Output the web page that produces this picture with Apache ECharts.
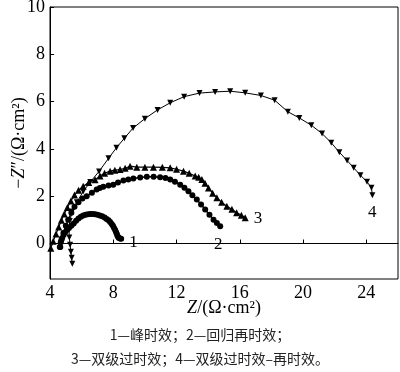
<!DOCTYPE html>
<html>
<head>
<meta charset="utf-8">
<script src="https://cdn.jsdelivr.net/npm/echarts@6/dist/echarts.min.js"></script>
<style>html,body{margin:0;padding:0;background:#fff}#c{width:400px;height:372px}</style>
</head>
<body>
<div id="c"></div>
<script>
// Curve labels
const curveNames = ['1', '2', '3', '4'];
// Tick labels
const xTicks = [4, 8, 12, 16, 20, 24];
const yTicks = [0, 2, 4, 6, 8, 10];
// Caption
const captionLines = ['1—峰时效；2—回归再时效；', '3—双级过时效；4—双级过时效–再时效。'];

// Series 1: peak aging (filled circles, dense)
const curve1 = [
  [4.62,-0.15],[4.68,0.05],[4.76,0.22],[4.86,0.36],[4.96,0.48],[5.08,0.58],[5.2,0.66],[5.35,0.75],
  [5.5,0.85],[5.65,0.96],[5.8,1.06],[5.95,1.13],[6.1,1.19],[6.25,1.22],[6.4,1.24],[6.55,1.25],
  [6.7,1.25],[6.85,1.24],[7.0,1.22],[7.15,1.19],[7.3,1.15],[7.45,1.1],[7.58,1.04],[7.7,0.98],
  [7.8,0.91],[7.9,0.83],[7.98,0.75],[8.05,0.66],[8.12,0.57],[8.18,0.48],[8.23,0.39],[8.28,0.31],
  [8.34,0.24],[8.42,0.21],[8.5,0.2]
];
// Series 2: retrogression and re-aging (filled circles)
const curve2 = [
  [4.65,-0.15],[4.72,0.15],[4.85,0.45],[5.0,0.75],[5.15,1.0],[5.35,1.3],[5.55,1.55],[5.8,1.75],
  [6.05,1.9],[6.32,2.0],[6.65,2.15],[6.95,2.28],[7.15,2.35],[7.37,2.4],[7.7,2.45],[8.0,2.49],
  [8.3,2.58],[8.64,2.66],[8.95,2.71],[9.27,2.75],[9.7,2.79],[10.12,2.82],[10.55,2.82],[10.96,2.8],
  [11.3,2.77],[11.6,2.71],[11.9,2.61],[12.23,2.49],[12.5,2.36],[12.75,2.21],[13.0,2.04],[13.28,1.86],
  [13.55,1.65],[13.81,1.44],[14.08,1.22],[14.34,1.01],[14.55,0.87],[14.76,0.73]
];
// Series 3: two-step over-aging (up triangles)
const curve3 = [
  [4.05,-0.2],[4.2,0.1],[4.38,0.4],[4.55,0.7],[4.72,0.98],[4.9,1.25],[5.1,1.52],[5.32,1.8],
  [5.55,2.05],[5.8,2.25],[6.1,2.42],[6.45,2.58],[6.85,2.7],[7.16,2.85],[7.45,2.97],[7.8,3.06],
  [8.1,3.1],[8.43,3.13],[8.75,3.18],[9.06,3.27],[9.49,3.23],[10.0,3.23],[10.54,3.23],[11.1,3.22],
  [11.6,3.2],[12.0,3.14],[12.44,3.06],[12.8,2.97],[13.18,2.85],[13.4,2.8],[13.6,2.71],[13.8,2.55],
  [14.02,2.35],[14.28,2.13],[14.55,1.93],[14.85,1.75],[15.18,1.58],[15.5,1.45],[15.8,1.3],[16.1,1.2],
  [16.34,1.09]
];
// Series 4: two-step over-aging + re-aging (down triangles)
const curve4 = [
  [5.41,-0.86],[5.37,-0.6],[5.32,-0.35],[5.27,-0.05],[5.22,0.25],[5.2,0.6],[5.25,0.95],[5.4,1.35],
  [5.7,1.75],[6.1,2.2],[6.55,2.6],[7.1,3.05],[7.7,3.6],[8.2,4.05],[8.7,4.45],[9.25,4.88],
  [10.0,5.28],[10.8,5.65],[11.6,5.95],[12.48,6.21],[13.45,6.36],[14.44,6.41],[15.39,6.44],[16.34,6.37],
  [17.33,6.26],[18.2,6.06],[19.04,5.57],[19.76,5.31],[20.52,5.0],[21.2,4.65],[21.78,4.26],[22.29,3.86],
  [22.78,3.51],[23.2,3.2],[23.62,2.89],[24.04,2.61],[24.32,2.36],[24.38,2.04]
];

const serif = '"Liberation Serif","DejaVu Serif",serif';
function withEndLabel(arr, name, pos, offset) {
  return arr.map((p, i) => i === arr.length - 1
    ? { value: p, label: { show: true, formatter: name, position: pos, offset: offset,
        color: '#000', fontFamily: serif, fontSize: 17 } }
    : { value: p });
}

const chart = echarts.init(document.getElementById('c'));
chart.setOption({
  animation: false,
  backgroundColor: '#fff',
  grid: { left: 50, right: 2, top: 7, bottom: 93, show: true, borderColor: '#000', borderWidth: 1,
          containLabel: false, outerBoundsMode: 'none' },
  xAxis: {
    type: 'value', min: 4, max: 26,
    name: '{i|Z}{n|/(Ω·cm²)}', nameLocation: 'middle', nameGap: 20, nameMoveOverlap: false,
    nameTextStyle: { rich: { i: { fontFamily: serif, fontSize: 18, fontStyle: 'italic', color: '#000' },
                             n: { fontFamily: serif, fontSize: 18, color: '#000' } } },
    axisLine: { lineStyle: { color: '#000', width: 1 } },
    axisTick: { inside: true, length: 4, lineStyle: { color: '#000' }, customValues: xTicks },
    axisLabel: { customValues: xTicks, color: '#000', fontFamily: serif, fontSize: 18, margin: 5 },
    splitLine: { show: false }
  },
  yAxis: {
    type: 'value', min: -1.5, max: 10,
    name: '{n|−}{i|Z}{n|″/(Ω·cm²)}', nameLocation: 'middle', nameGap: 22, nameRotate: 90, nameMoveOverlap: false,
    nameTextStyle: { rich: { i: { fontFamily: serif, fontSize: 18, fontStyle: 'italic', color: '#000' },
                             n: { fontFamily: serif, fontSize: 18, color: '#000' } } },
    axisLine: { lineStyle: { color: '#000', width: 1 } },
    axisTick: { inside: true, length: 4, lineStyle: { color: '#000' }, customValues: yTicks },
    axisLabel: { customValues: yTicks, color: '#000', fontFamily: serif, fontSize: 18, margin: 5 },
    splitLine: { show: false }
  },
  series: [
    { type: 'line', name: curveNames[0], data: withEndLabel(curve1, curveNames[0], 'right', [0, 4]),
      symbol: 'circle', symbolSize: 6, itemStyle: { color: '#000' }, lineStyle: { color: '#000', width: 3 } },
    { type: 'line', name: curveNames[1], data: withEndLabel(curve2, curveNames[1], 'bottom', [-2, 2]),
      symbol: 'circle', symbolSize: 6, itemStyle: { color: '#000' }, lineStyle: { color: '#000', width: 1.5 } },
    { type: 'line', name: curveNames[2], data: withEndLabel(curve3, curveNames[2], 'right', [0, 1]),
      symbol: 'triangle', symbolSize: 7, itemStyle: { color: '#000' }, lineStyle: { color: '#000', width: 1.2 } },
    { type: 'line', name: curveNames[3], data: withEndLabel(curve4, curveNames[3], 'bottom', [0, 1]),
      symbol: 'triangle', symbolRotate: 180, symbolSize: 6, itemStyle: { color: '#000' }, lineStyle: { color: '#000', width: 1 } }
  ],
  graphic: captionLines.map((t, i) => ({
    type: 'text', left: 'center', top: 328 + i * 24,
    style: { text: t, fill: '#222', font: '14px "Noto Sans CJK SC", sans-serif' }
  }))
});
</script>
</body>
</html>
